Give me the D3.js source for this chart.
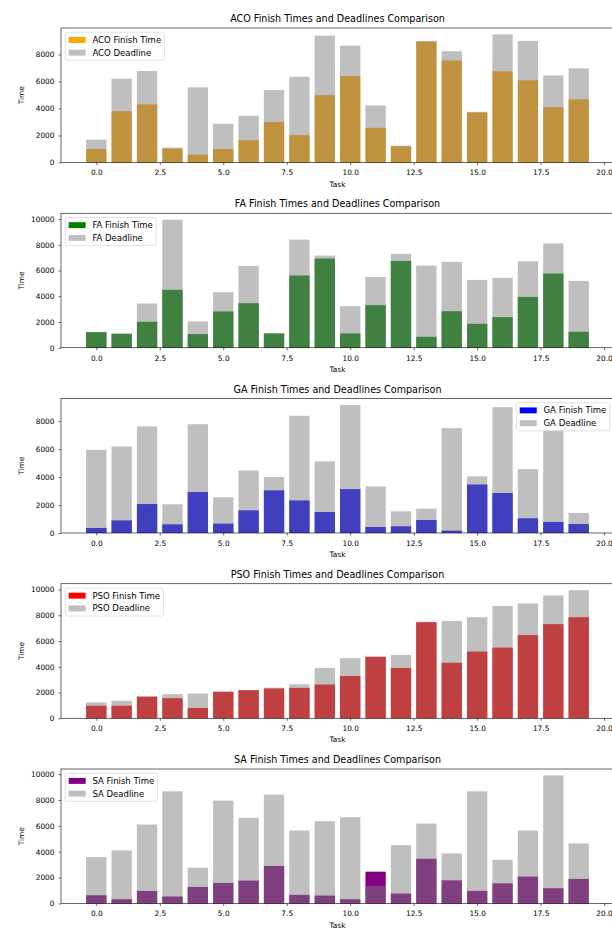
<!DOCTYPE html>
<html>
<head>
<meta charset="utf-8">
<script src="https://cdn.jsdelivr.net/npm/d3@7"></script>
<style>
  body { margin: 0; background: #fff; }
  svg { display: block; }
  text { font-family: "DejaVu Sans", sans-serif; fill: #000; }
</style>
</head>
<body>
<div id="chart"></div>
<script>
// Task indices shared by every panel
const tasks = [0, 1, 2, 3, 4, 5, 6, 7, 8, 9, 10, 11, 12, 13, 14, 15, 16, 17, 18, 19];

// Algorithm names and the colour of each finish-time series
const algorithms = ["ACO", "FA", "GA", "PSO", "SA"];
const finishColors = ["orange", "green", "blue", "red", "purple"];
const legendSides = ["left", "left", "right", "left", "left"];

// Finish times and deadlines per algorithm
const acoFinish   = [1000, 3800, 4300, 1040, 590, 990, 1650, 3010, 2030, 4990, 6400, 2570, 1200, 8950, 7550, 3700, 6750, 6080, 4100, 4680];
const acoDeadline = [1700, 6200, 6770, 1100, 5560, 2870, 3460, 5360, 6350, 9390, 8650, 4220, 1250, 9000, 8240, 3750, 9480, 9000, 6440, 6970];

const faFinish    = [1210, 1085, 2015, 4500, 1060, 2820, 3460, 1110, 5610, 6930, 1110, 3310, 6740, 850, 2840, 1860, 2380, 3950, 5760, 1240];
const faDeadline  = [1230, 1100, 3440, 9950, 2040, 4320, 6360, 1120, 8400, 7160, 3230, 5500, 7290, 6380, 6670, 5270, 5430, 6720, 8110, 5190];

const gaFinish    = [360, 900, 2070, 620, 2930, 670, 1620, 3050, 2330, 1500, 3140, 430, 480, 930, 170, 3470, 2860, 1050, 790, 640];
const gaDeadline  = [5950, 6190, 7620, 2050, 7780, 2550, 4470, 4000, 8380, 5120, 9160, 3330, 1550, 1740, 7500, 4050, 9000, 4570, 7330, 1430];

const psoFinish   = [975, 975, 1670, 1560, 800, 2050, 2180, 2310, 2360, 2620, 3280, 4770, 3900, 7460, 4310, 5180, 5490, 6460, 7310, 7850];
const psoDeadline = [1230, 1360, 1700, 1870, 1920, 2080, 2200, 2380, 2640, 3900, 4670, 4800, 4920, 7500, 7560, 7850, 8720, 8920, 9540, 9950];

const saFinish    = [640, 330, 970, 540, 1280, 1590, 1770, 2900, 670, 615, 330, 2460, 770, 3460, 1790, 975, 1560, 2080, 1180, 1900];
const saDeadline  = [3590, 4100, 6100, 8670, 2770, 7950, 6620, 8410, 5640, 6360, 6670, 1350, 4510, 6180, 3870, 8670, 3380, 5640, 9900, 4640];

const finishSeries = [acoFinish, faFinish, gaFinish, psoFinish, saFinish];
const deadlineSeries = [acoDeadline, faDeadline, gaDeadline, psoDeadline, saDeadline];

// Tick values on the task axis
const xTicks = [0, 2.5, 5, 7.5, 10, 12.5, 15, 17.5, 20];
const yStep = 2000;

const W = 612, H = 929;
const svg = d3.select("#chart").append("svg").attr("width", W).attr("height", H);

const plotLeft = 61, plotRight = 614;
const firstTop = 28, panelStep = 185.25, plotHeight = 134.5;
const barWidth = 0.8;
const tickFont = 7.4, titleFont = 9.6, legendFont = 8.5, labelFont = 7.4;

const x = d3.scaleLinear()
  .domain([-0.4 - 0.99, 19.4 + 0.99])
  .range([plotLeft, plotRight]);

algorithms.forEach((name, i) => {
  const top = firstTop + i * panelStep;
  const bottom = top + plotHeight;
  const finish = finishSeries[i];
  const deadline = deadlineSeries[i];
  const maxVal = d3.max(finish.concat(deadline));

  const y = d3.scaleLinear().domain([0, maxVal * 1.05]).range([bottom, top]);

  const g = svg.append("g");

  // Finish-time bars, then the translucent deadline bars over them
  g.selectAll(".finish").data(tasks).enter().append("rect")
    .attr("x", d => x(d - barWidth / 2))
    .attr("width", d => x(d + barWidth / 2) - x(d - barWidth / 2))
    .attr("y", d => y(finish[d]))
    .attr("height", d => y(0) - y(finish[d]))
    .attr("fill", finishColors[i]);

  g.selectAll(".deadline").data(tasks).enter().append("rect")
    .attr("x", d => x(d - barWidth / 2))
    .attr("width", d => x(d + barWidth / 2) - x(d - barWidth / 2))
    .attr("y", d => y(deadline[d]))
    .attr("height", d => y(0) - y(deadline[d]))
    .attr("fill", "gray")
    .attr("fill-opacity", 0.5);

  // Axes
  const yTicks = d3.range(0, maxVal * 1.05 + 1, yStep);
  const xAxis = d3.axisBottom(x).tickValues(xTicks).tickFormat(d3.format(".1f"))
    .tickSize(2.5).tickPadding(5);
  const yAxis = d3.axisLeft(y).tickValues(yTicks).tickFormat(d3.format("d"))
    .tickSize(2.5).tickPadding(4);

  const xa = g.append("g").attr("transform", `translate(0,${bottom})`).call(xAxis);
  const ya = g.append("g").attr("transform", `translate(${plotLeft},0)`).call(yAxis);
  [xa, ya].forEach(a => {
    a.select(".domain").remove();
    a.selectAll("line").attr("stroke", "#000").attr("stroke-width", 0.6);
    a.selectAll("text").attr("font-size", tickFont).attr("font-family", "DejaVu Sans");
  });

  // Frame around the plotting area
  g.append("rect")
    .attr("x", plotLeft).attr("y", top)
    .attr("width", plotRight - plotLeft).attr("height", plotHeight)
    .attr("fill", "none").attr("stroke", "#000").attr("stroke-width", 0.6);

  // Title and axis labels
  g.append("text")
    .attr("x", (plotLeft + plotRight) / 2).attr("y", top - 6)
    .attr("text-anchor", "middle").attr("font-size", titleFont)
    .text(`${name} Finish Times and Deadlines Comparison`);

  g.append("text")
    .attr("x", (plotLeft + plotRight) / 2).attr("y", bottom + 24)
    .attr("text-anchor", "middle").attr("font-size", labelFont)
    .text("Task");

  g.append("text")
    .attr("transform", `translate(24,${(top + bottom) / 2}) rotate(-90)`)
    .attr("text-anchor", "middle").attr("font-size", labelFont)
    .text("Time");

  // Legend
  const labels = [`${name} Finish Time`, `${name} Deadline`];
  const em = legendFont;
  const handleW = 2 * em, handleH = 0.7 * em;
  const rowH = em * 1.0 + 0.5 * em;
  const pad = 0.4 * em;
  const tmp = g.append("text").attr("font-size", legendFont).text(labels[0]);
  const textW = Math.max(tmp.node().getComputedTextLength(),
    tmp.text(labels[1]).node().getComputedTextLength());
  tmp.remove();
  const boxW = pad * 2 + handleW + 0.8 * em + textW;
  const boxH = pad * 2 + rowH * 2 - 0.5 * em;
  const boxX = legendSides[i] === "left" ? plotLeft + 0.5 * em : plotRight - 0.5 * em - boxW;
  const boxY = top + 0.5 * em;
  const lg = g.append("g").attr("transform", `translate(${boxX},${boxY})`);
  lg.append("rect").attr("width", boxW).attr("height", boxH)
    .attr("rx", 2).attr("fill", "#fff").attr("fill-opacity", 0.8)
    .attr("stroke", "#ccc").attr("stroke-width", 0.6);
  const swatches = [{ fill: finishColors[i], op: 1 }, { fill: "gray", op: 0.5 }];
  labels.forEach((lab, k) => {
    const cy = pad + rowH * k + em / 2;
    lg.append("rect").attr("x", pad).attr("y", cy - handleH / 2)
      .attr("width", handleW).attr("height", handleH)
      .attr("fill", swatches[k].fill).attr("fill-opacity", swatches[k].op);
    lg.append("text").attr("x", pad + handleW + 0.8 * em).attr("y", cy + em * 0.36)
      .attr("font-size", legendFont).text(lab);
  });
});
</script>
</body>
</html>
